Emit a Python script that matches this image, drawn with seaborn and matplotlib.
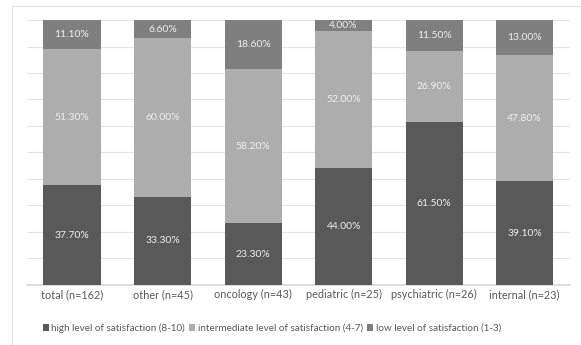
import matplotlib
matplotlib.use("Agg")
import matplotlib.pyplot as plt
import seaborn as sns
import numpy as np
import pandas as pd
from matplotlib.patches import Patch, Rectangle

categories = ["total (n=162)", "other (n=45)", "oncology (n=43)", "pediatric (n=25)",
              "psychiatric (n=26)", "internal (n=23)"]
high = [37.7, 33.3, 23.3, 44.0, 61.5, 39.1]
intermediate = [51.3, 60.0, 58.2, 52.0, 26.9, 47.8]
low = [11.1, 6.6, 18.6, 4.0, 11.5, 13.0]
series_names = ["high level of satisfaction (8-10)",
                "intermediate level of satisfaction (4-7)",
                "low level of satisfaction (1-3)"]

colors = ["#595959", "#adadad", "#7f7f7f"]

sns.set_theme(style="white")
plt.rcParams['font.family'] = ['Lato', 'DejaVu Sans']

df = pd.DataFrame({"cat": categories, "high": high, "mid": intermediate, "low": low})
df["c1"] = df["high"]
df["c2"] = df["high"] + df["mid"]
df["c3"] = df["high"] + df["mid"] + df["low"]

fig = plt.figure(figsize=(5.81, 3.45), dpi=100)
ax = fig.add_axes([0.046, 0.174, 0.935, 0.768])

w = 0.63
for col, c, z in [("c3", colors[2], 2), ("c2", colors[1], 3), ("c1", colors[0], 4)]:
    sns.barplot(data=df, x="cat", y=col, color=c, width=w, saturation=1, ax=ax,
                zorder=z, linewidth=0, edgecolor="none")

for i, row in df.iterrows():
    for lo, hi, v in [(0, row["c1"], row["high"]), (row["c1"], row["c2"], row["mid"]),
                      (row["c2"], row["c3"], row["low"])]:
        ax.text(i, (lo + hi) / 2, f"{v:.2f}%", ha="center", va="center",
                color="#efefef", fontsize=7.5, zorder=5)

ax.set_ylim(0, 100)
ax.set_yticks(np.arange(0, 101, 10))
ax.set_yticklabels([])
ax.tick_params(axis="y", length=0)
ax.tick_params(axis="x", length=0, labelsize=7.8, colors="#595959", pad=3)
ax.yaxis.grid(True, color="#e4e4e4", linewidth=0.8, zorder=0)
ax.set_axisbelow(True)
for s in ["left", "right", "top"]:
    ax.spines[s].set_visible(False)
ax.spines["bottom"].set_color("#d9d9d9")
ax.set_xlabel("")
ax.set_ylabel("")
ax.set_xlim(-0.5, 5.5)

handles = [Patch(facecolor=c, edgecolor="none") for c in colors]
fig.legend(handles, series_names, loc="center", bbox_to_anchor=(0.468, 0.049), ncol=3,
           frameon=False, fontsize=7.1, handlelength=0.6, handleheight=0.6,
           handletextpad=0.3, columnspacing=0.4, labelcolor="#595959")

fig.patches.append(Rectangle((0.021, -0.01), 1.0, 0.993, transform=fig.transFigure,
                             fill=False, edgecolor="#e0e0e0", linewidth=0.8))

fig.savefig("out.png", dpi=100)
